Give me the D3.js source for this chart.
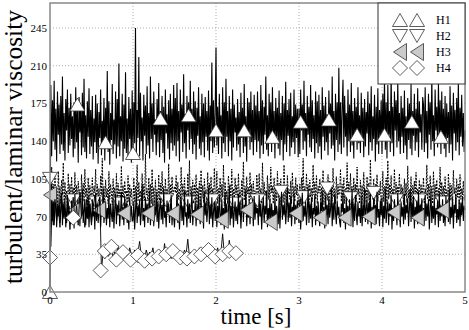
<!DOCTYPE html>
<html>
<head>
<meta charset="utf-8">
<script src="https://cdn.jsdelivr.net/npm/d3@7"></script>
<style>
  body { margin: 0; background: #fff; }
</style>
</head>
<body>
<div class="chart"></div>
<script>
var chartOptions = {
  width: 469,
  height: 330,
  left: 50,
  right: 465,
  top: 3,
  bottom: 292
};

var xTicks = [0, 1, 2, 3, 4, 5];
var yTicks = [0, 35, 70, 105, 140, 175, 210, 245];
var seriesNames = ['H1', 'H2', 'H3', 'H4'];

// end time of each record [s]; samples are evenly spaced from t=0
var h1End = 5, h2End = 5, h3End = 5, h4End = 2.28;

var h1Values = [
  0, 192, 126, 178, 140, 196, 132, 170, 121, 186, 146, 174, 128, 182, 137, 200, 131, 166, 122, 179, 150, 188, 129, 171, 136, 184, 142, 163, 125, 176, 133, 190, 139, 168, 120, 181, 148, 172, 127, 185, 134, 198, 130, 164, 124, 177, 144, 189, 128, 169,
  135, 182, 123, 161, 139, 183, 129, 175, 119, 167, 143, 188, 127, 159, 136, 180, 122, 171, 134, 205, 130, 177, 118, 166, 141, 193, 128, 160, 137, 186, 124, 179, 135, 212, 126, 163, 140, 184, 121, 174, 133, 204, 129, 161, 125, 181, 142, 170, 120, 187,
  132, 176, 138, 245, 127, 169, 143, 218, 126, 185, 140, 162, 122, 183, 145, 173, 128, 191, 136, 166, 124, 200, 142, 175, 130, 186, 146, 160, 127, 179, 139, 194, 125, 168, 141, 182, 129, 172, 120, 188, 147, 165, 133, 178, 123, 184, 138, 170, 131, 192,
  136, 180, 126, 194, 140, 168, 121, 188, 148, 174, 130, 202, 138, 165, 124, 182, 150, 176, 132, 196, 142, 170, 128, 186, 137, 177, 123, 171, 145, 190, 133, 163, 127, 184, 139, 175, 125, 181, 144, 168, 131, 187, 122, 173, 140, 213, 129, 178, 134, 166,
  227, 136, 172, 128, 184, 146, 164, 124, 190, 138, 176, 130, 198, 144, 168, 126, 182, 140, 170, 122, 188, 134, 174, 148, 162, 131, 179, 137, 167, 125, 185, 143, 171, 129, 193, 135, 163, 121, 180, 145, 176, 132, 186, 139, 169, 127, 183, 141, 173, 130,
  186, 140, 168, 124, 192, 136, 178, 128, 172, 146, 200, 132, 164, 126, 184, 142, 176, 130, 190, 138, 168, 124, 180, 144, 171, 133, 187, 127, 166, 141, 182, 122, 175, 137, 195, 130, 169, 145, 179, 126, 185, 134, 163, 139, 188, 128, 174, 143, 170, 125,
  170, 128, 188, 150, 174, 132, 196, 140, 166, 126, 182, 146, 172, 134, 192, 130, 178, 142, 164, 124, 186, 138, 177, 129, 183, 135, 169, 123, 190, 144, 173, 131, 181, 139, 165, 127, 187, 147, 175, 133, 200, 136, 168, 122, 184, 141, 176, 130, 208, 137,
  176, 128, 170, 197, 134, 182, 144, 166, 126, 188, 140, 174, 130, 194, 136, 168, 124, 180, 146, 172, 132, 190, 138, 164, 129, 185, 143, 171, 125, 179, 135, 167, 147, 186, 127, 175, 139, 191, 131, 163, 142, 183, 121, 172, 137, 189, 128, 169, 145, 178,
  128, 184, 142, 198, 132, 176, 124, 192, 146, 168, 130, 204, 138, 172, 126, 186, 150, 178, 134, 196, 140, 166, 128, 182, 144, 171, 129, 187, 136, 163, 123, 180, 141, 175, 133, 193, 127, 168, 145, 184, 131, 170, 139, 189, 125, 177, 148, 165, 132, 181,
  174, 130, 190, 138, 168, 124, 184, 146, 176, 132, 200, 140, 164, 126, 188, 150, 172, 134, 194, 142, 178, 128, 186, 138, 170, 133, 182, 125, 175, 143, 167, 129, 191, 137, 173, 122, 185, 147, 169, 131, 180, 139, 195, 127, 171, 144, 183, 135, 166, 130,
  150
];

var h2Values = [
  105, 60, 116, 84, 100, 80, 108, 86, 96, 78, 112, 88, 98, 82, 104, 90, 120, 80, 102, 86, 94, 78, 110, 84, 100, 83, 107, 89, 97, 79, 111, 85, 99, 81, 103, 92, 95, 77, 109, 87, 101, 84, 114, 88, 96, 80, 106, 82, 99, 90,
  88, 106, 80, 98, 92, 114, 82, 100, 86, 96, 78, 108, 90, 124, 84, 98, 80, 104, 88, 96, 82, 112, 86, 100, 92, 81, 105, 87, 97, 79, 110, 85, 101, 89, 95, 83, 117, 86, 99, 80, 103, 91, 94, 78, 108, 84, 100, 88, 96, 82,
  80, 106, 84, 98, 90, 118, 82, 102, 88, 94, 80, 110, 86, 100, 84, 128, 90, 96, 78, 106, 88, 100, 82, 114, 86, 97, 81, 104, 89, 95, 79, 109, 85, 101, 83, 112, 90, 98, 80, 105, 87, 96, 82, 119, 86, 100, 84, 107, 91, 94,
  98, 92, 108, 80, 102, 86, 96, 82, 116, 88, 100, 84, 106, 90, 94, 80, 110, 86, 122, 84, 98, 88, 104, 82, 100, 85, 109, 81, 97, 89, 103, 79, 113, 87, 99, 83, 105, 91, 95, 80, 111, 86, 101, 84, 107, 88, 96, 82, 115, 90,
  86, 112, 82, 96, 90, 106, 84, 100, 88, 118, 80, 102, 86, 94, 82, 108, 92, 100, 84, 114, 88, 96, 80, 106, 90, 99, 83, 110, 87, 95, 81, 104, 89, 121, 85, 98, 79, 107, 91, 97, 84, 111, 86, 100, 82, 103, 88, 94, 80, 109,
  100, 84, 110, 88, 96, 82, 120, 86, 102, 90, 94, 80, 108, 86, 100, 84, 116, 92, 98, 82, 106, 88, 96, 84, 112, 87, 101, 81, 105, 89, 97, 83, 118, 85, 99, 79, 108, 91, 95, 86, 103, 82, 111, 88, 98, 84, 106, 90, 100, 80,
  88, 100, 82, 106, 90, 124, 86, 98, 84, 110, 92, 100, 80, 104, 88, 96, 84, 118, 90, 102, 86, 108, 82, 98, 92, 105, 83, 97, 89, 113, 81, 101, 87, 95, 85, 109, 79, 103, 91, 99, 84, 115, 88, 96, 82, 107, 86, 100, 90, 94,
  114, 84, 100, 88, 106, 82, 96, 90, 120, 86, 102, 84, 110, 92, 98, 80, 106, 88, 100, 84, 116, 90, 96, 82, 104, 87, 99, 81, 111, 89, 95, 83, 107, 85, 101, 79, 123, 91, 97, 86, 105, 82, 100, 88, 109, 84, 96, 90, 103, 80,
  88, 112, 84, 98, 90, 106, 82, 122, 86, 100, 88, 108, 84, 96, 90, 114, 82, 102, 86, 98, 92, 110, 84, 100, 88, 97, 81, 105, 89, 101, 83, 117, 87, 95, 85, 107, 79, 99, 91, 103, 86, 111, 82, 96, 88, 104, 84, 100, 90, 94,
  106, 82, 96, 90, 118, 86, 100, 84, 108, 92, 98, 82, 112, 88, 100, 86, 104, 80, 96, 90, 116, 84, 102, 88, 98, 83, 107, 89, 95, 81, 110, 87, 101, 85, 99, 79, 113, 91, 97, 84, 105, 88, 100, 82, 109, 86, 96, 90, 103, 85,
  90
];

var h3Values = [
  90, 42, 100, 66, 84, 62, 78, 94, 60, 80, 70, 88, 64, 76, 92, 62, 82, 68, 86, 60, 74, 90, 66, 80, 72, 63, 85, 69, 79, 59, 91, 67, 81, 65, 77, 87, 61, 83, 71, 95, 64, 75, 86, 62, 79, 68, 89, 60, 82, 73,
  62, 86, 70, 78, 58, 92, 68, 82, 64, 76, 88, 60, 80, 70, 96, 64, 74, 84, 62, 78, 68, 90, 60, 82, 72, 65, 87, 59, 77, 91, 63, 81, 71, 85, 61, 75, 93, 67, 79, 62, 89, 69, 83, 64, 76, 58, 88, 70, 80, 66,
  66, 84, 58, 76, 92, 64, 80, 70, 86, 62, 74, 100, 66, 78, 60, 88, 70, 82, 64, 76, 94, 62, 80, 68, 86, 61, 79, 71, 91, 65, 83, 59, 77, 87, 67, 81, 63, 95, 69, 75, 60, 85, 72, 82, 64, 78, 90, 62, 76, 70,
  60, 78, 72, 90, 64, 82, 58, 76, 88, 66, 80, 62, 94, 70, 74, 60, 86, 68, 82, 64, 78, 92, 62, 76, 70, 85, 61, 81, 67, 89, 73, 63, 87, 69, 79, 59, 93, 71, 83, 65, 77, 97, 63, 81, 68, 88, 60, 75, 84, 66,
  84, 60, 80, 66, 90, 72, 62, 86, 68, 78, 58, 92, 70, 82, 64, 76, 98, 62, 80, 68, 88, 60, 74, 84, 66, 79, 63, 91, 71, 83, 59, 77, 87, 65, 81, 73, 95, 61, 79, 69, 85, 63, 83, 71, 77, 61, 89, 67, 81, 73,
  78, 62, 90, 70, 82, 58, 76, 88, 64, 80, 72, 94, 60, 78, 68, 86, 62, 82, 70, 76, 60, 90, 66, 80, 72, 63, 87, 59, 79, 93, 67, 81, 71, 85, 63, 77, 97, 65, 83, 69, 89, 61, 79, 73, 91, 63, 81, 67, 85, 71,
  64, 86, 58, 78, 92, 66, 80, 70, 84, 62, 76, 96, 64, 82, 68, 88, 60, 78, 72, 90, 62, 80, 66, 84, 70, 61, 83, 75, 93, 65, 79, 59, 89, 71, 81, 63, 87, 69, 77, 95, 61, 83, 67, 91, 73, 63, 85, 71, 79, 65,
  60, 82, 74, 92, 64, 78, 58, 88, 70, 80, 62, 86, 68, 76, 94, 60, 82, 66, 90, 72, 62, 84, 70, 78, 64, 89, 61, 81, 69, 97, 65, 77, 85, 63, 83, 71, 91, 59, 79, 67, 87, 73, 81, 63, 93, 69, 77, 61, 85, 71,
  88, 60, 80, 68, 96, 64, 76, 84, 62, 82, 70, 90, 58, 78, 66, 86, 72, 80, 62, 92, 68, 76, 60, 84, 70, 79, 63, 91, 67, 81, 73, 87, 61, 77, 95, 65, 83, 69, 89, 59, 79, 71, 85, 63, 93, 67, 81, 73, 87, 62,
  78, 62, 90, 66, 82, 70, 86, 58, 76, 94, 64, 80, 68, 88, 62, 78, 72, 84, 60, 92, 66, 80, 70, 86, 64, 77, 61, 89, 71, 83, 65, 95, 63, 79, 69, 87, 59, 81, 73, 91, 64, 77, 67, 85, 61, 83, 71, 89, 66, 80,
  76
];

var h4Values = [
  33, 74, 62, 86, 66, 80, 60, 90, 70, 78, 64, 84, 58, 76, 88, 66, 80, 62, 92, 70,
  76, 60, 86, 68, 82, 64, 78, 90, 66, 84, 88,
  20, 37, 31, 39, 33, 35, 41, 31, 37, 33, 43, 35, 31, 39, 33, 37, 31, 41, 35, 33,
  39, 31, 37, 47, 33, 35, 31, 39, 33, 37, 35, 41, 31, 37, 33, 39, 35, 31, 45, 33,
  37, 35, 31, 39, 33, 41, 35, 31, 37, 33, 39, 35, 49, 33, 37, 31, 39, 35, 33, 41,
  37, 31, 39, 35, 33, 45, 37, 31, 39, 35, 41, 33, 37, 54, 35, 39, 33, 48, 37, 35,
  31, 39, 33, 34
];

// marker points [t, value]
var h1Marks = [[0, 0], [0.33, 174], [0.67, 139], [1.0, 129], [1.33, 161], [1.67, 164], [2.0, 150],
  [2.34, 150], [2.68, 144], [3.02, 158], [3.36, 160], [3.7, 146], [4.03, 146], [4.36, 158], [4.71, 144]];
var h2Marks = [[0, 105], [0.28, 85], [0.56, 83], [0.84, 82], [1.12, 79], [1.4, 85], [1.67, 83], [1.95, 85],
  [2.23, 82], [2.5, 85], [2.78, 93], [3.06, 88], [3.34, 96], [3.62, 87], [3.9, 92], [4.17, 85], [4.45, 85], [4.73, 83]];
var h3Marks = [[0, 90], [0.3, 76], [0.59, 76], [0.89, 73], [1.18, 73], [1.48, 73], [1.77, 72], [2.07, 67],
  [2.37, 76], [2.66, 65], [2.96, 73], [3.25, 69], [3.55, 69], [3.84, 70], [4.14, 74], [4.43, 69], [4.73, 76]];
var h4Marks = [[0, 32], [0.28, 69], [0.61, 20], [0.66, 38], [0.74, 42], [0.8, 30], [0.88, 37], [0.97, 30],
  [1.06, 34], [1.14, 29], [1.23, 31], [1.31, 33], [1.4, 35], [1.48, 38], [1.57, 32], [1.65, 31], [1.74, 33],
  [1.82, 35], [1.91, 39], [1.99, 33], [2.08, 35], [2.16, 38], [2.24, 36]];

var svg = d3.select('.chart').append('svg')
  .attr('width', chartOptions.width)
  .attr('height', chartOptions.height)
  .attr('font-family', "'Liberation Serif', 'Times New Roman', Times, serif");

var x = d3.scaleLinear().domain([0, 5]).range([chartOptions.left, chartOptions.right]);
var y = d3.scaleLinear().domain([0, 268.2]).range([chartOptions.bottom, chartOptions.top]);

// grid
svg.append('g').selectAll('line')
  .data(xTicks.slice(1, -1))
  .enter().append('line')
  .attr('x1', function(d) { return x(d); }).attr('x2', function(d) { return x(d); })
  .attr('y1', chartOptions.top).attr('y2', chartOptions.bottom)
  .attr('stroke', '#999').attr('stroke-width', 0.8).attr('stroke-dasharray', '1,2');

svg.append('g').selectAll('line')
  .data(yTicks.slice(1))
  .enter().append('line')
  .attr('x1', chartOptions.left).attr('x2', chartOptions.right)
  .attr('y1', function(d) { return y(d); }).attr('y2', function(d) { return y(d); })
  .attr('stroke', '#999').attr('stroke-width', 0.8).attr('stroke-dasharray', '1,2');

var toPoints = function(values, tEnd) {
  var step = tEnd / (values.length - 1);
  return values.map(function(v, i) { return [i * step, v]; });
};

var line = d3.line()
  .x(function(d) { return x(d[0]); })
  .y(function(d) { return y(d[1]); });

var triUp = 'M0,-6.5L7.5,6.5L-7.5,6.5Z';
var triDown = 'M0,6.5L7.5,-6.5L-7.5,-6.5Z';
var triLeft = 'M-6.5,0L6.5,-8.5L6.5,8.5Z';
var diamond = 'M0,-7.5L7.5,0L0,7.5L-7.5,0Z';

var series = [
  { values: h1Values, end: h1End, marks: h1Marks, shape: triUp, fill: '#fff', dash: null, width: 1.1 },
  { values: h2Values, end: h2End, marks: h2Marks, shape: triDown, fill: '#fff', dash: '2,1.2', width: 1 },
  { values: h3Values, end: h3End, marks: h3Marks, shape: triLeft, fill: '#cacaca', dash: null, width: 1.1 },
  { values: h4Values, end: h4End, marks: h4Marks, shape: diamond, fill: '#fff', dash: null, width: 0.9 }
];

// each series: line then its markers, in order
series.forEach(function(s) {
  svg.append('path')
    .datum(toPoints(s.values, s.end))
    .attr('d', line)
    .attr('fill', 'none')
    .attr('stroke', '#000')
    .attr('stroke-width', s.width)
    .attr('stroke-dasharray', s.dash);

  svg.append('g').selectAll('path')
    .data(s.marks)
    .enter().append('path')
    .attr('d', s.shape)
    .attr('transform', function(d) { return 'translate(' + x(d[0]) + ',' + y(d[1]) + ')'; })
    .attr('fill', s.fill)
    .attr('stroke', '#333')
    .attr('stroke-width', 0.8);
});

// frame
svg.append('rect')
  .attr('x', chartOptions.left).attr('y', chartOptions.top)
  .attr('width', chartOptions.right - chartOptions.left)
  .attr('height', chartOptions.bottom - chartOptions.top)
  .attr('fill', 'none').attr('stroke', '#888').attr('stroke-width', 1.5);

// tick labels
svg.append('g').selectAll('text')
  .data(xTicks)
  .enter().append('text')
  .attr('x', function(d) { return x(d); })
  .attr('y', 304)
  .attr('text-anchor', 'middle')
  .attr('font-size', 11)
  .text(function(d) { return d; });

svg.append('g').selectAll('text')
  .data(yTicks)
  .enter().append('text')
  .attr('x', 47)
  .attr('y', function(d) { return y(d) + 4; })
  .attr('text-anchor', 'end')
  .attr('font-size', 11)
  .text(function(d) { return d; });

// axis titles
svg.append('text')
  .attr('x', 256).attr('y', 324)
  .attr('text-anchor', 'middle')
  .attr('font-size', 23)
  .text('time [s]');

svg.append('text')
  .attr('transform', 'translate(22,147) rotate(-90)')
  .attr('text-anchor', 'middle')
  .attr('font-size', 25.5)
  .text('turbulent/laminar viscosity');

// legend
var legend = svg.append('g');
legend.append('rect')
  .attr('x', 378).attr('y', chartOptions.top)
  .attr('width', chartOptions.right - 378).attr('height', 81)
  .attr('fill', '#fff').attr('stroke', '#333').attr('stroke-width', 1);

var rows = legend.selectAll('g')
  .data(series)
  .enter().append('g')
  .attr('transform', function(d, i) { return 'translate(0,' + (20 + i * 16) + ')'; });

[400, 417].forEach(function(mx) {
  rows.append('path')
    .attr('d', function(d) { return d.shape; })
    .attr('transform', 'translate(' + mx + ',0)')
    .attr('fill', function(d) { return d.fill; })
    .attr('stroke', '#333')
    .attr('stroke-width', 0.8);
});

rows.append('text')
  .attr('x', 436).attr('y', 4)
  .attr('font-size', 12)
  .text(function(d, i) { return seriesNames[i]; });
</script>
</body>
</html>
